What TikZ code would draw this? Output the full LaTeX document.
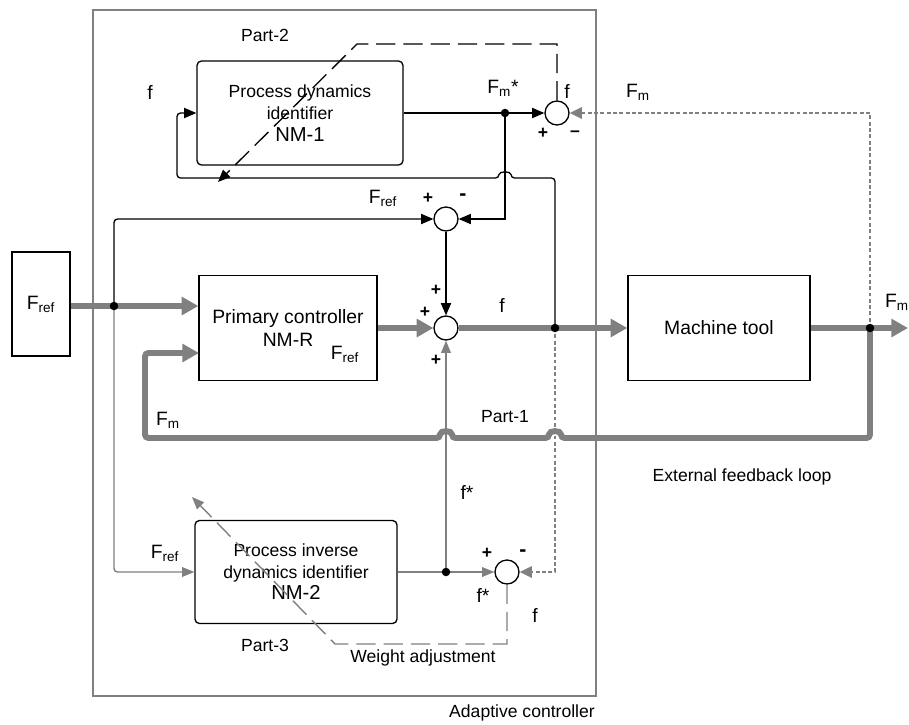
\documentclass[tikz,border=0pt]{standalone}
\usepackage{fontspec}
\setmainfont{Liberation Sans}
\usetikzlibrary{arrows.meta}
\begin{document}
\begin{tikzpicture}[x=0.02cm, y=-0.02cm, font=\fontsize{10}{12}\selectfont,
  box/.style={draw=black, line width=0.75pt, inner sep=0pt, align=center},
  rbox/.style={box, rounded corners=2.5pt},
  sumc/.style={circle, draw=black, line width=0.75pt, minimum size=0.48cm, inner sep=0pt},
  dotn/.style={circle, fill=black, minimum size=0.17cm, inner sep=0pt},
  blk/.style={draw=black, line width=0.75pt},
  blkarr/.style={blk, -{Triangle[length=7pt,width=5.8pt]}},
  gthin/.style={draw=gray, line width=0.8pt},
  gthinarr/.style={gthin, -{Triangle[length=7pt,width=5.5pt]}},
  gthick/.style={draw=gray, line width=3.4pt},
  gthickarr/.style={gthick, -{Triangle[length=9.5pt,width=10pt]}},
  gdotarr/.style={draw=gray, line width=1.1pt, dash pattern=on 2.2pt off 1.4pt, -{Triangle[length=7pt,width=6.5pt]}},
  dashpat/.style={dash pattern=on 11pt off 4.5pt},
  flab/.style={font=\fontsize{11}{13}\selectfont},
  sign/.style={font=\fontsize{10}{12}\selectfont\bfseries},
  bigsign/.style={font=\fontsize{12}{12}\selectfont\bfseries}
]
\useasboundingbox (0,0) rectangle (909,724);

% outer adaptive controller frame
\node[draw=gray, line width=1.1pt, minimum width=10.06cm, minimum height=13.72cm, inner sep=0pt] (adapt) at (344.5,353) {};
\node (adaptlab) at (522,713) {Adaptive controller};

% blocks
\node[box, minimum width=1.16cm, minimum height=2.08cm, flab] (fref) at (41,304) {F\textsubscript{ref}};
\node[rbox, minimum width=4.12cm, minimum height=2.08cm, font=\fontsize{10}{12.5}\selectfont] (nm1) at (300,113) {Process dynamics\\identifier\\{\fontsize{11.5}{13}\selectfont NM-1}};
\node[box, minimum width=3.56cm, minimum height=2.1cm, font=\fontsize{11}{13.6}\selectfont] (nmr) at (288,328) {Primary controller\\NM-R};
\node[box, minimum width=3.64cm, minimum height=2.1cm, font=\fontsize{11}{13}\selectfont] (mt) at (719,328) {Machine tool};
\node[rbox, minimum width=4.04cm, minimum height=2.06cm, font=\fontsize{10}{12.2}\selectfont] (nm2) at (296,572) {Process inverse\\dynamics identifier\\{\fontsize{11.5}{13}\selectfont NM-2}};

% summing junctions
\node[sumc] (s1) at (557,113) {};
\node[sumc] (s2) at (446,219) {};
\node[sumc] (s3) at (446,328) {};
\node[sumc] (s4) at (507,572) {};

% branch points
\coordinate (pA) at (114,306);
\coordinate (pB) at (505,113);
\coordinate (pC) at (555,328);
\coordinate (pD) at (870,328);
\coordinate (pE) at (446,572);
\coordinate (outR) at (908,328);
\coordinate (fbIn) at (199,353);
\coordinate (wa1) at (218,182);
\coordinate (wa2) at (192,497);

% thick signal path
\draw[gthickarr] (fref.east |- pA) -- (pA) -- (nmr.west |- pA);
\draw[gthickarr] (nmr.east) -- (s3.west);
\draw[gthickarr] (s3.east) -- (pC) -- (mt.west);
\draw[gthickarr] (mt.east) -- (pD) -- (outR);
\draw[gthickarr, rounded corners=2pt] (pD) -- (870,438) -- (561,438)
   .. controls (561,430) and (549,430) .. (549,438) -- (452,438)
   .. controls (452,430) and (440,430) .. (440,438) -- (145,438) -- (145,353) -- (fbIn);

% black thin connectors
\draw[blkarr] (nm1.east) -- (pB) -- (s1.west);
\draw[blkarr] (pB) -- (pB |- s2) -- (s2.east);
\draw[blkarr, rounded corners=2pt] (pA) -- (pA |- s2) -- (s2.west);
\draw[blkarr] (s2.south) -- (s3.north);
\draw[blkarr, rounded corners=2pt] (pC) -- (555,178) -- (511,178)
   .. controls (511,171) and (499,171) .. (499,178) -- (177,178) -- (177,113) -- (nm1.west);

% dotted measured-force connectors
\draw[gdotarr] (pD) -- (pD |- s1) -- (s1.east);
\draw[gdotarr] (pC) -- (pC |- s4) -- (s4.east);

% gray thin connectors
\draw[gthinarr] (nm2.east) -- (pE) -- (s4.west);
\draw[gthinarr] (pE) -- (s3.south);
\draw[gthinarr, rounded corners=2pt] (pA) -- (pA |- s4) -- (nm2.west);

% weight adjustment (dashed)
\draw[blk, dashpat, -{Triangle[length=7pt,width=5.8pt]}] (s1.north) -- (557,44) -- (357,44) -- (wa1);
\draw[gthin, dashpat, -{Triangle[length=7pt,width=5.5pt]}] (s4.south) -- (507,644) -- (335,644) -- (wa2);

% dots
\foreach \p in {pA,pB,pC,pD,pE} \node[dotn] (d\p) at (\p) {};

% labels
\node (lp2) at (265,35) {Part-2};
\node[flab] (lf1) at (150,93) {f};
\node[flab] (lfm1) at (503,88) {F\textsubscript{m}*};
\node[flab] (lf2) at (567,92) {f};
\node[sign] (lpl1) at (543,133) {+};
\node[sign] (lmi1) at (575,134) {--};
\node[flab] (lfm2) at (638,92) {F\textsubscript{m}};
\node[flab] (lfr1) at (383,198) {F\textsubscript{ref}};
\node[sign] (lpl2) at (428,198) {+};
\node[bigsign] (lmi2) at (463,197) {-};
\node[sign] (lpl3) at (436,290) {+};
\node[sign] (lpl4) at (425,312) {+};
\node[sign] (lpl5) at (436,360) {+};
\node[flab] (lf3) at (502,305) {f};
\node[flab] (lfr2) at (345,354) {F\textsubscript{ref}};
\node[flab] (lfm3) at (897,302) {F\textsubscript{m}};
\node (lp1) at (505,417) {Part-1};
\node[flab] (lfm4) at (168,420) {F\textsubscript{m}};
\node (lext) at (742,477) {External feedback loop};
\node[flab] (lfs1) at (467,492) {f*};
\node[sign] (lpl6) at (487,553) {+};
\node[bigsign] (lmi3) at (523,553) {-};
\node[flab] (lfs2) at (483,595) {f*};
\node[flab] (lf4) at (535,615) {f};
\node[flab] (lfr3) at (165,553) {F\textsubscript{ref}};
\node (lp3) at (265,645) {Part-3};
\node (lwa) at (423,658) {Weight adjustment};
\end{tikzpicture}
\end{document}
